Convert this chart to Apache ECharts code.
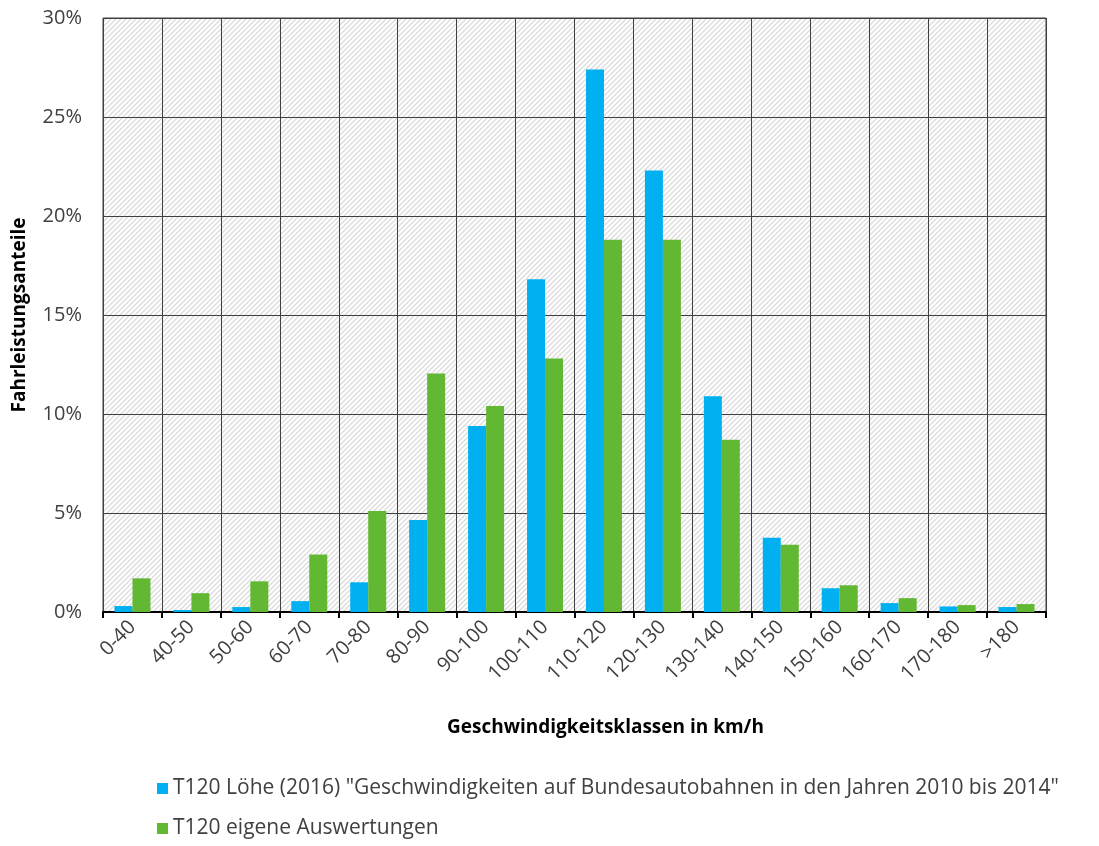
<!DOCTYPE html>
<html><head><meta charset="utf-8">
<script src="https://cdn.jsdelivr.net/npm/echarts@6/dist/echarts.min.js"></script>
<style>html,body{margin:0;padding:0;background:#fff;}#c{width:1099px;height:846px;}</style>
</head><body><div id="c"></div>
<script>
const categories = ["0-40","40-50","50-60","60-70","70-80","80-90","90-100","100-110","110-120","120-130","130-140","140-150","150-160","160-170","170-180",">180"];
const loeheValues = [0.3,0.1,0.25,0.55,1.5,4.65,9.4,16.8,27.4,22.3,10.9,3.75,1.2,0.45,0.28,0.25];
const eigeneValues = [1.7,0.95,1.55,2.9,5.1,12.05,10.4,12.8,18.8,18.8,8.7,3.4,1.35,0.7,0.35,0.4];
const seriesNames = ["T120 Löhe (2016) \"Geschwindigkeiten auf Bundesautobahnen in den Jahren 2010 bis 2014\"", "T120 eigene Auswertungen"];
const yTicks = [0,5,10,15,20,25,30];

const FONT = "Open Sans";
// hatch pattern
const S = 5;
const pc = document.createElement('canvas');
pc.width = S; pc.height = S;
const px = pc.getContext('2d');
px.fillStyle = '#ffffff'; px.fillRect(0,0,S,S);
px.strokeStyle = '#dcdcdc'; px.lineWidth = 1.4;
px.beginPath();
for (let k=-1;k<=1;k++){ px.moveTo(-1+k*S,S+1); px.lineTo(S+1+k*S,-1); }
px.stroke();

const chart = echarts.init(document.getElementById('c'), null, {renderer:'canvas'});
chart.setOption({
  animation:false,
  backgroundColor:'#fff',
  grid:{left:103,right:53,top:18,bottom:234,show:true,backgroundColor:{image:pc,repeat:'repeat'},borderColor:'#404040',borderWidth:1},
  legend:{
    orient:'vertical',left:152,top:773,itemGap:19,itemWidth:11,itemHeight:11,icon:'rect',
    textStyle:{fontFamily:FONT,fontSize:21,color:'#404040'},
    data:seriesNames
  },
  xAxis:{
    type:'category',data:categories,boundaryGap:true,
    name:'Geschwindigkeitsklassen in km/h',nameLocation:'middle',nameGap:106,
    nameTextStyle:{fontFamily:FONT,fontSize:19,fontWeight:'bold',color:'#000',padding:[0,0,0,62]},
    axisLine:{lineStyle:{color:'#000',width:2}},
    axisTick:{show:true,length:6,lineStyle:{color:'#000',width:2},alignWithLabel:false},
    splitLine:{show:true,lineStyle:{color:'#404040',width:1}},
    axisLabel:{rotate:45,fontFamily:FONT,fontSize:20,color:'#404040',margin:12,interval:0}
  },
  yAxis:{
    type:'value',min:0,max:30,interval:5,
    name:'Fahrleistungsanteile',nameLocation:'middle',nameGap:74,
    nameTextStyle:{fontFamily:FONT,fontSize:19,fontWeight:'bold',color:'#000'},
    axisLine:{show:false},axisTick:{show:false},
    splitLine:{show:true,lineStyle:{color:'#404040',width:1}},
    axisLabel:{formatter:v=>v+'%',fontFamily:FONT,fontSize:20,color:'#404040',margin:21}
  },
  series:[
    {name:seriesNames[0],type:'bar',data:loeheValues,barWidth:18,barGap:'0%',itemStyle:{color:'#00B0F0'}},
    {name:seriesNames[1],type:'bar',data:eigeneValues,barWidth:18,barGap:'0%',itemStyle:{color:'#62B832'}}
  ]
});
</script></body></html>
